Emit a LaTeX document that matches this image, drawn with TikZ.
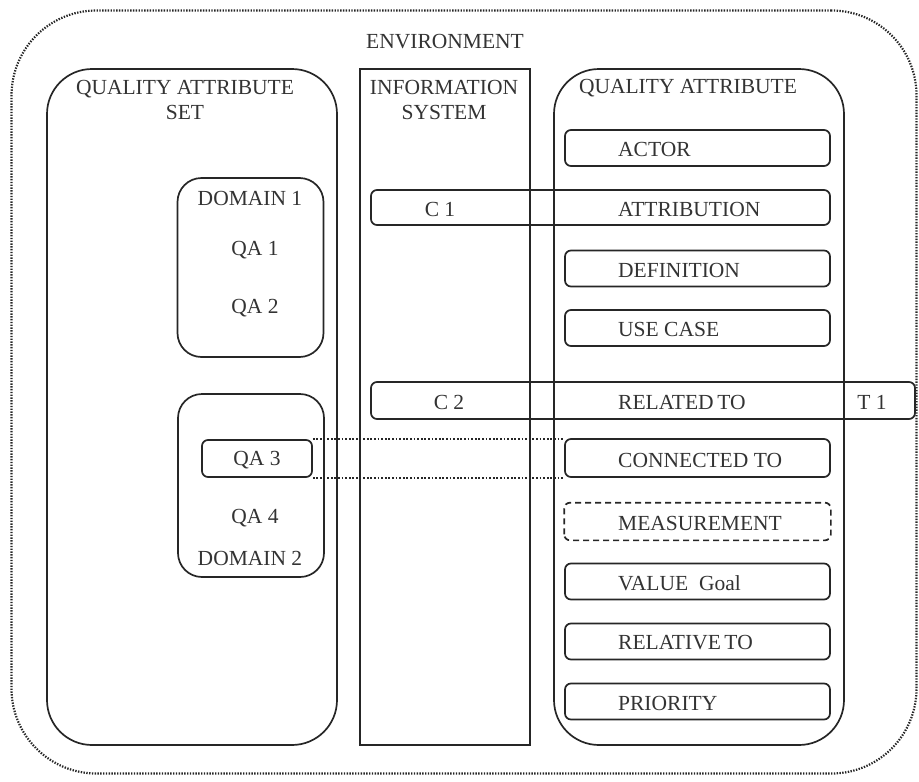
\documentclass[tikz,border=0pt]{standalone}
\usepackage{fontspec}
\setmainfont{Liberation Serif}
\begin{document}
\begin{tikzpicture}[x=1pt,y=-1pt,
  ln/.style={draw=black!85,line width=1.7pt},
  bigbox/.style={ln,rounded corners=45pt,minimum width=290pt,minimum height=676pt,inner sep=0pt},
  infobox/.style={ln,minimum width=170pt,minimum height=676pt,inner sep=0pt},
  dombox/.style={ln,rounded corners=24pt,minimum width=146pt,inner sep=0pt},
  item/.style={ln,rounded corners=6pt,minimum width=265pt,minimum height=36pt,inner sep=0pt},
  lbl/.style={font=\fontsize{21.5}{25}\selectfont,text=black!80,inner sep=0pt},
  envline/.style={draw=black!85,line width=2.2pt,dash pattern=on 1.4pt off 1.4pt},
  link/.style={draw=black!85,line width=2.2pt,dash pattern=on 1.8pt off 1.8pt}]
\useasboundingbox (0,0) rectangle (919,782);
% environment
\node[envline,rounded corners=85pt,minimum width=905pt,minimum height=763pt,inner sep=0pt] (env) at (464,392) {};
\node[lbl] (envt) at (445,42) {ENVIRONMENT};
% three columns
\node[bigbox] (qaset) at (192,407) {};
\node[lbl,align=center] (qasett) at (185,100) {QUALITY ATTRIBUTE\\SET};
\node[infobox] (is) at (445,407) {};
\node[lbl,align=center] (ist) at (444,100) {INFORMATION\\SYSTEM};
\node[bigbox] (qa) at (699,407) {};
\node[lbl] (qat) at (688,88) {QUALITY ATTRIBUTE};
% domains
\node[dombox,minimum height=179pt] (dom1) at (250.5,267.5) {};
\node[lbl] (dom1t) at (250,198) {DOMAIN 1};
\node[lbl] (qa1) at (255,250) {QA 1};
\node[lbl] (qa2) at (255,308) {QA 2};
\node[dombox,minimum height=183pt] (dom2) at (251,485.5) {};
\node[ln,rounded corners=6pt,minimum width=110pt,minimum height=37pt,inner sep=0pt] (qa3) at (257,458.5) {};
\node[lbl] (qa3t) at (257,460) {QA 3};
\node[lbl] (qa4) at (255,518) {QA 4};
\node[lbl] (dom2t) at (250,558) {DOMAIN 2};
% items
\node[item] (actor) at (697.5,148) {};
\node[lbl,anchor=west] (actort) at (618,149) {ACTOR};
\node[item,minimum width=459pt,minimum height=35pt] (attr) at (600.5,207.5) {};
\node[lbl] (c1) at (440,209) {C 1};
\node[lbl,anchor=west] (attrt) at (618,209) {ATTRIBUTION};
\node[item] (def) at (697.5,268.5) {};
\node[lbl,anchor=west] (deft) at (618,270) {DEFINITION};
\node[item] (uc) at (697.5,328) {};
\node[lbl,anchor=west] (uct) at (618,329) {USE CASE};
\node[item,minimum width=544pt,minimum height=37pt] (rel) at (643,400.5) {};
\node[lbl] (c2) at (449,402) {C 2};
\node[lbl,anchor=west] (relt) at (618,402) {RELATED\,TO};
\node[lbl] (t1) at (872,402) {T 1};
\node[item,minimum height=38pt] (conn) at (697.5,458) {};
\node[lbl,anchor=west] (connt) at (618,460) {CONNECTED TO};
\node[item,draw=none] (meas) at (697.5,521.5) {};
\draw[draw=black!85,line width=1.7pt,dash pattern=on 6pt off 4pt,rounded corners=6pt] (meas.south west) rectangle (meas.north east);
\node[lbl,anchor=west] (meast) at (618,523) {MEASUREMENT};
\node[item] (val) at (697.5,581.5) {};
\node[lbl,anchor=west] (valt) at (618,583) {VALUE\ \ Goal};
\node[item] (rto) at (697.5,641.5) {};
\node[lbl,anchor=west] (rtot) at (618,643) {RELATIVE\,TO};
\node[item] (prio) at (697.5,701.5) {};
\node[lbl,anchor=west] (priot) at (618,703) {PRIORITY};
% dotted links
\draw[link] (qa3.north east) -- (qa3.north east -| conn.west);
\draw[link] (qa3.south east) -- (qa3.south east -| conn.west);
\end{tikzpicture}
\end{document}
